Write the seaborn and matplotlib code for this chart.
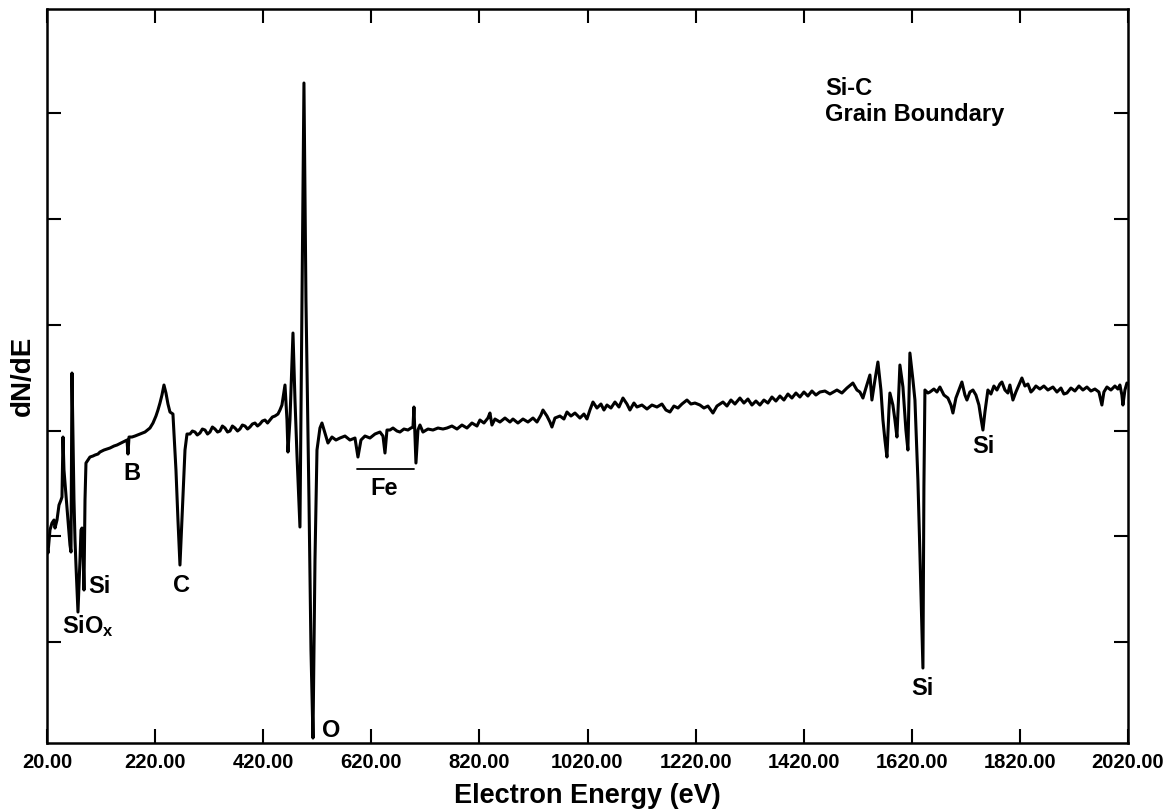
import numpy as np
import pandas as pd
import matplotlib
matplotlib.use("Agg")
import matplotlib.pyplot as plt
import seaborn as sns

# ---- data ----
energy_ev = [
    20.5, 21.8, 25.5, 29.2, 32.9, 34.8, 38.5, 42.2, 45.9, 47.7, 49.6, 51.4, 55.1, 58.8, 62.5, 64.4,
    66.2, 68.1, 69.9, 71.8, 73.6, 77.3, 81.0, 82.9, 84.7, 86.6, 88.4, 90.3, 92.1, 95.8, 99.5,
    105.0, 108.8, 114.3, 118.0, 125.4, 136.5, 143.9, 149.5, 156.9, 164.3, 168.0, 169.8, 171.7,
    177.2, 182.8, 192.0, 201.3, 210.5, 216.1, 221.6, 225.3, 229.0, 232.7, 236.4, 240.1, 243.8,
    247.5, 253.0, 258.6, 262.3, 266.0, 269.7, 275.3, 279.0, 284.5,
    289.0, 293.8, 298.0, 303.0, 307.5, 312.3, 317.0, 321.5, 326.0, 330.8, 335.5, 340.0, 344.5,
    349.3, 354.0, 358.5, 363.0, 367.8, 372.5, 377.0, 381.5, 386.3, 391.0, 395.5, 400.0, 404.8,
    409.5, 414.0, 418.5, 423.3, 428.0, 432.5, 437.0, 441.8, 447.3, 451.0, 454.7,
    460.3, 464.0, 465.8, 469.5, 475.1, 478.8, 482.5, 488.0, 491.7, 495.4, 499.1, 504.7, 508.4,
    512.1, 515.8, 519.5, 525.0, 528.7, 534.3, 539.8, 547.2, 554.6, 562.0, 571.3, 580.5, 589.8,
    595.3, 600.9, 608.3, 617.5, 626.8, 636.0, 641.6, 645.3, 649.0, 654.5, 660.1, 667.5, 673.0,
    680.4, 687.8, 693.4, 697.1, 698.9, 702.6, 706.3, 710.0, 715.6, 724.8, 734.1, 743.3, 752.6,
    760.0,
    769.2, 778.5, 787.7, 797.0, 806.2, 815.5, 821.0, 828.4, 835.8, 839.5, 843.2, 848.8, 858.0,
    867.3, 876.5, 882.1, 891.3, 900.6, 909.8, 919.1, 926.5, 933.9, 937.6, 945.0, 950.5, 954.2,
    959.8, 969.0, 976.4, 982.0, 989.4, 996.8, 1006.0, 1013.4, 1019.0, 1024.5, 1030.1, 1037.5,
    1044.9, 1050.4, 1056.0, 1063.4, 1070.8, 1078.2, 1085.6, 1093.0, 1098.5, 1105.9, 1111.5,
    1120.7, 1130.0, 1139.2, 1148.5, 1157.7, 1165.1, 1172.5, 1179.9, 1187.3, 1194.7, 1204.0,
    1211.4, 1218.8, 1228.0, 1235.4, 1242.8, 1252.1, 1259.5, 1265.0, 1270.6, 1278.0, 1285.4,
    1292.8, 1302.0, 1309.4, 1316.8, 1324.2, 1331.6, 1339.0, 1346.4, 1353.8, 1361.2, 1368.6,
    1376.0, 1383.4, 1390.8, 1398.2, 1405.6, 1413.0, 1420.4, 1427.8, 1435.2, 1442.6, 1450.0,
    1459.3, 1468.5, 1481.5, 1490.7, 1500.0, 1511.0, 1518.5, 1524.0, 1529.6, 1535.1, 1542.5,
    1546.2, 1551.8, 1557.3, 1562.9, 1566.6, 1570.3, 1574.0, 1577.7, 1579.5, 1585.0, 1588.8,
    1592.5, 1596.2, 1598.0, 1603.6, 1609.1, 1612.8, 1616.5, 1622.1, 1625.8, 1631.3, 1635.0,
    1640.6, 1642.4, 1644.3, 1649.8, 1653.5, 1660.9, 1666.5, 1672.0, 1679.4, 1686.8, 1692.4,
    1696.1, 1701.6, 1707.2, 1712.7, 1718.3, 1722.0, 1727.5, 1733.1, 1738.6, 1744.2, 1747.9,
    1751.6, 1755.3, 1760.8, 1766.4, 1771.9, 1777.5, 1783.0, 1786.7, 1792.3, 1797.8, 1801.5,
    1807.1, 1812.6, 1818.2, 1823.7, 1829.3, 1834.8, 1840.4, 1844.1, 1849.6, 1857.0, 1864.4,
    1871.8, 1881.1, 1888.5, 1895.9, 1901.4, 1907.0, 1914.4, 1921.8, 1929.2, 1936.6, 1944.0,
    1951.4, 1958.8, 1966.2, 1971.7, 1975.4, 1981.0, 1988.4, 1995.8, 2001.3, 2005.0, 2008.7,
    2010.6, 2014.3, 2018.0,
]

dn_de = [
    196, 190, 213, 220, 223, 215, 223, 238, 243, 246, 306, 273, 248, 223, 198, 191,
    370, 303, 243, 203, 178, 131, 183, 213, 215, 193, 153, 243, 280, 283, 286,
    287, 288, 289, 291, 293, 295, 297, 298, 300, 302, 303, 289, 306,
    306, 307, 309, 311, 315, 320, 327, 333, 340, 348, 358, 350, 339,
    331, 329, 273, 223, 178, 223, 293, 309, 309,
    312, 311, 308, 310, 314, 313, 309, 311, 316, 314, 311, 312, 317,
    315, 311, 312, 317, 315, 312, 314, 318, 317, 314, 316, 319, 320,
    317, 319, 322, 323, 320, 323, 326, 327, 329, 333, 338,
    358, 323, 291, 323, 410, 343, 288, 216, 443, 660, 443, 243, 93,
    5, 183, 293, 315, 320, 310, 300, 306, 303, 305, 307, 303, 305,
    286, 303, 307, 305, 309, 311, 307, 290, 313, 313, 315, 312, 311,
    314, 313, 315, 316, 336, 280, 313, 318, 311, 314, 313, 315, 314,
    315,
    317, 314, 318, 315, 320, 317, 323, 320, 325, 330, 318, 324, 321,
    325, 321, 324, 320, 324, 321, 325, 321, 328, 333, 327, 321, 316,
    325, 327, 324, 331, 327, 330, 325, 329, 324, 333, 341, 335,
    339, 333, 338, 335, 341, 336, 345, 339, 333, 340, 336,
    338, 334, 338, 336, 339, 333, 331, 337, 335, 339, 343,
    339, 340, 338, 335, 337, 330, 337, 339, 341, 337, 343,
    339, 345, 340, 344, 338, 342, 338, 343, 340, 346, 342,
    347, 343, 349, 345, 350, 346, 351, 347, 352, 348, 351,
    352, 349, 353, 350, 355, 360, 353, 351, 345, 355, 368,
    343, 363, 381, 353, 323, 303, 286, 333, 350, 338, 323,
    306, 353, 378, 356, 313, 293, 390, 363, 343, 263, 190,
    75, 256, 353, 350, 351, 354, 351, 356, 348, 345, 338,
    330, 345, 353, 361, 348, 343, 351, 353, 348, 338, 325,
    313, 331, 353, 349, 357, 353, 359, 361, 353, 350, 358,
    343, 351, 358, 365, 357, 359, 351, 353, 357, 354, 357,
    353, 356, 351, 355, 349, 350, 355, 352, 357, 353, 356,
    352, 354, 351, 338, 351, 356, 353, 357, 354, 358, 348,
    338, 353, 360,
]

xtick_values = [20, 220, 420, 620, 820, 1020, 1220, 1420, 1620, 1820, 2020]
xtick_labels = ["20.00", "220.00", "420.00", "620.00", "820.00", "1020.00",
                "1220.00", "1420.00", "1620.00", "1820.00", "2020.00"]
ytick_values = [101, 207, 312, 418, 524, 630]

# peak annotations: (text, energy, intensity, horizontal alignment)
peak_text = ["Si", r"SiO$_{\mathbf{x}}$", "B", "C", "Fe", "O", "Si", "Si"]
peak_energy = [96, 48, 177, 268, 643, 545, 1639, 1752]
peak_level = [150, 110, 263, 151, 248, 6, 48, 290]
peak_ha = ["left", "left", "center", "center", "center", "center", "center", "center"]

fe_bar_energy = [593, 699]
fe_bar_level = 274

sample_title = ["Si-C", "Grain Boundary"]

# ---- style ----
sns.set_theme(style="ticks")
plt.rcParams["font.family"] = ["Liberation Sans", "DejaVu Sans"]
plt.rcParams["text.color"] = "black"
plt.rcParams["axes.labelcolor"] = "black"
plt.rcParams["xtick.color"] = "black"
plt.rcParams["ytick.color"] = "black"
plt.rcParams["mathtext.fontset"] = "custom"
plt.rcParams["mathtext.rm"] = "Liberation Sans:bold"
plt.rcParams["mathtext.bf"] = "Liberation Sans:bold"
plt.rcParams["mathtext.it"] = "Liberation Sans:bold"

df = pd.DataFrame({"energy": energy_ev, "dNdE": dn_de})

fig = plt.figure(figsize=(11.75, 8.11), dpi=100)
ax = fig.add_axes([0.04, 0.0838, 0.92, 0.9051])

sns.lineplot(data=df, x="energy", y="dNdE", ax=ax, color="black",
             linewidth=2.2, estimator=None, sort=False)

ax.set_xlim(20, 2020)
ax.set_ylim(0, 734)
ax.set_xticks(xtick_values)
ax.set_xticklabels(xtick_labels, fontweight="bold", fontsize=14.5, color="black")
ax.set_yticks(ytick_values)
ax.set_yticklabels([])
ax.tick_params(direction="in", length=10, width=1.5, top=True, right=True,
               color="black", pad=7)
for s in ax.spines.values():
    s.set_linewidth(1.8)
    s.set_color("black")

ax.set_xlabel("Electron Energy (eV)", fontsize=19.5, fontweight="bold",
              labelpad=8, color="black")
ax.set_ylabel("dN/dE", fontsize=20, fontweight="bold", labelpad=1, color="black")

for t, e, lvl, ha in zip(peak_text, peak_energy, peak_level, peak_ha):
    ax.text(e, lvl, t, ha=ha, va="baseline", fontsize=17, fontweight="bold",
            color="black")

ax.plot(fe_bar_energy, [fe_bar_level, fe_bar_level], color="black", linewidth=1.3)

ax.text(0.72, 0.883, sample_title[0], transform=ax.transAxes, ha="left",
        va="baseline", fontsize=17, fontweight="bold", color="black")
ax.text(0.72, 0.847, sample_title[1], transform=ax.transAxes, ha="left",
        va="baseline", fontsize=17, fontweight="bold", color="black")

fig.savefig("out.png", dpi=100)
